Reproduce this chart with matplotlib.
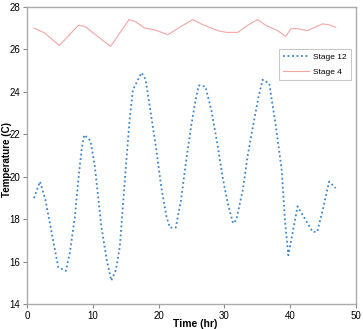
import matplotlib
matplotlib.use("Agg")
import matplotlib.pyplot as plt

plt.rcParams['font.family'] = ['Liberation Sans', 'DejaVu Sans']

# Stage 12 (blue dotted)
t12 = [1.06, 1.97, 2.8, 4.75, 5.9, 6.5, 7.27, 7.8, 8.3, 8.7, 9.65, 10.3, 11.3, 12.1,
       12.8, 13.5, 14.1, 14.6, 15.1, 15.6, 16.1, 17.4, 18.0, 18.9, 19.65, 20.4, 21.2,
       21.7, 22.6, 23.4, 24.2, 24.95, 25.6, 26.1, 27.1, 28.0, 29.0, 29.7, 30.5, 31.3,
       31.8, 32.8, 33.5, 34.4, 35.2, 35.8, 36.8, 37.8, 38.7, 39.2, 39.7, 40.35, 41.1,
       43.4, 44.1, 44.9, 45.9, 46.9]
T12 = [18.99, 19.77, 18.9, 15.73, 15.56, 16.4, 18.1, 19.85, 21.3, 21.97, 21.69, 20.5,
       17.65, 16.1, 15.1, 15.6, 16.7, 18.75, 20.8, 22.7, 24.1, 24.9, 24.6, 22.8, 21.26,
       19.5, 18.1, 17.6, 17.6, 18.9, 20.8, 22.4, 23.6, 24.3, 24.25, 23.15, 21.4, 20.0,
       18.75, 17.8, 17.96, 19.4, 20.95, 22.5, 23.8, 24.57, 24.4, 22.4, 20.3, 17.9, 16.3,
       17.35, 18.6, 17.4, 17.4, 18.4, 19.77, 19.46]

# Stage 4 (pink solid)
t4 = [1.06, 2.7, 4.9, 7.8, 8.8, 12.7, 15.5, 16.4, 17.9, 19.4, 21.4, 23.4, 25.2, 26.7,
      29.0, 30.3, 32.0, 33.5, 35.0, 36.3, 38.1, 39.3, 40.1, 41.1, 42.6, 44.9, 45.9, 46.9]
T4 = [27.0, 26.77, 26.18, 27.13, 27.08, 26.14, 27.4, 27.32, 27.0, 26.92, 26.69, 27.08,
      27.4, 27.16, 26.88, 26.8, 26.8, 27.13, 27.4, 27.13, 26.88, 26.61, 26.97, 26.97,
      26.88, 27.2, 27.16, 27.04]

xticks = [0, 10, 20, 30, 40, 50]
yticks = [14, 16, 18, 20, 22, 24, 26, 28]

fig = plt.figure(figsize=(3.63, 3.29), dpi=100)
ax = fig.add_axes([0.0744, 0.076, 0.9066, 0.903])

ax.plot(t12, T12, color='#3d85c6', linestyle=(0, (1, 1.5)), linewidth=1.3, label='Stage 12')
ax.plot(t4, T4, color='#f2a5a5', linestyle='-', linewidth=0.8, label='Stage 4')

ax.set_xlim(0, 50)
ax.set_ylim(14, 28)
ax.set_xticks(xticks)
ax.set_yticks(yticks)
ax.tick_params(labelsize=7, length=3, width=0.8, color='#888888', pad=2)

for s in ax.spines.values():
    s.set_color('#aaaaaa')
    s.set_linewidth(1.0)

ax.set_xlabel('Time (hr)', fontsize=7.5, fontweight='bold')
ax.xaxis.set_label_coords(0.51, -0.05)
ax.set_ylabel('Temperature (C)', fontsize=7, fontweight='bold')
ax.yaxis.set_label_coords(-0.047, 0.485)

leg = ax.legend(loc='upper right', bbox_to_anchor=(0.983, 0.86), fontsize=6,
                frameon=True, fancybox=False, borderpad=0.5, handlelength=3.2,
                labelspacing=0.9, handletextpad=0.4, borderaxespad=0)
leg.get_frame().set_edgecolor('#bbbbbb')
leg.get_frame().set_linewidth(0.8)

fig.savefig('out.png', dpi=100)
